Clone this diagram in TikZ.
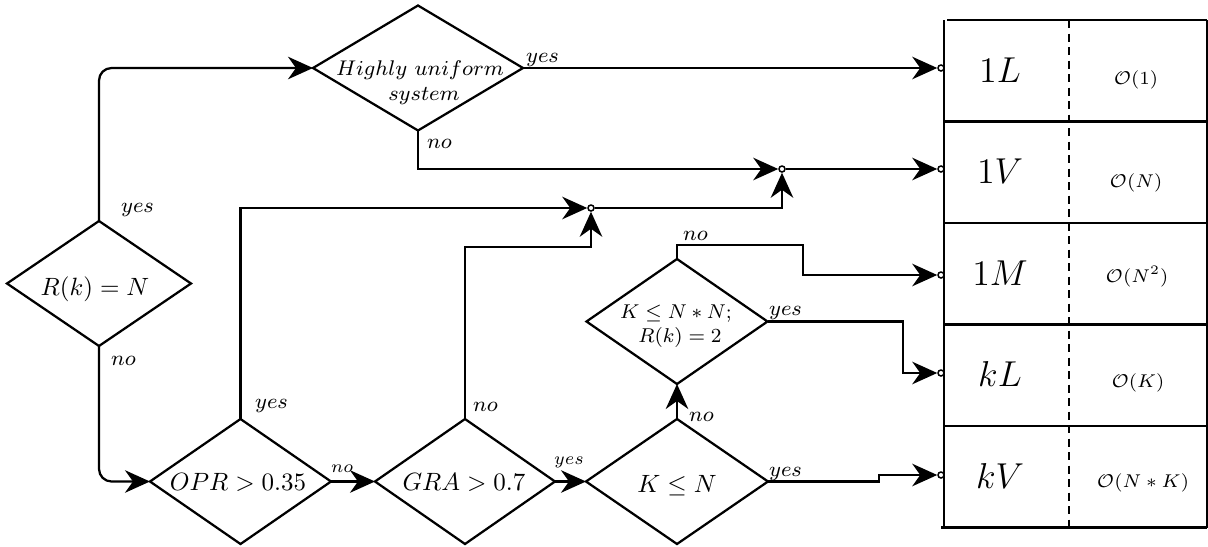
\IfFileExists{fix-cm.sty}{\RequirePackage{fix-cm}}{}
\documentclass[tikz,border=0pt]{standalone}
\usetikzlibrary{shapes.geometric,arrows.meta}
\begin{document}
\begin{tikzpicture}[x=0.4pt,y=-0.4pt,
  line width=0.9pt,
  dec/.style={shape=diamond, draw, inner sep=0pt, outer sep=0pt, minimum height=50pt},
  tip/.style={-{Stealth[length=10pt,width=9pt,inset=3.2pt]}},
  jct/.style={circle, draw, fill=white, inner sep=0pt, minimum size=2.4pt, line width=0.6pt},
  mtext/.style={anchor=base, inner sep=0pt, font={\fontsize{10}{12}\selectfont}},
  stext/.style={anchor=base, inner sep=0pt, font={\fontsize{8}{9.5}\selectfont}},
  htext/.style={anchor=base, inner sep=0pt, font={\fontsize{8.5}{10}\selectfont}},
  lbl/.style={anchor=base west, inner sep=0pt, font={\fontsize{8.5}{10}\selectfont}},
  slbl/.style={anchor=base west, inner sep=0pt, font={\fontsize{7}{8}\selectfont}},
  rowtxt/.style={anchor=base, inner sep=0pt, font=\Large},
  cost/.style={anchor=base, inner sep=0pt, font={\fontsize{7.4}{9}\selectfont}},
]
\useasboundingbox (0,0) rectangle (1208,547);

% result table
\draw (947,20) -- (1207,20);
\draw (944,121.5) -- (1207,121.5);
\draw (944,223) -- (1207,223);
\draw (944,324.5) -- (1207,324.5);
\draw (944,426) -- (1207,426);
\draw (941,527.5) -- (1207,527.5);
\draw (944,20) -- (944,527.5);
\draw (1207,20) -- (1207,527.5);
\draw[dash pattern=on 3.2pt off 2.2pt] (1069,20) -- (1069,527.5);

\node[rowtxt] (r1) at (1000,82) {$1L$};
\node[rowtxt] (r2) at (1000,183) {$1V$};
\node[rowtxt] (r3) at (1000,285) {$1M$};
\node[rowtxt] (r4) at (1000,386) {$kL$};
\node[rowtxt] (r5) at (1000,488) {$kV$};
\node[cost] (o1) at (1136,84) {$\mathcal{O}(1)$};
\node[cost] (o2) at (1136,187) {$\mathcal{O}(N)$};
\node[cost] (o3) at (1137,282) {$\mathcal{O}(N^2)$};
\node[cost] (o4) at (1138,387) {$\mathcal{O}(K)$};
\node[cost] (o5) at (1143,487) {$\mathcal{O}(N*K)$};

% decisions
\node[dec, minimum width=73.6pt] (rk) at (99,283.5) {};
\node[mtext] (rkt) at (95,295) {$R(k) = N$};
\node[dec, minimum width=84pt] (hu) at (418,68) {};
\node[htext] (hut1) at (420,75) {$Highly\ uniform$};
\node[htext] (hut2) at (424,100) {$system$};
\node[dec, minimum width=72.4pt] (opr) at (240.5,481.5) {};
\node[mtext] (oprt) at (238,490) {$OPR > 0.35$};
\node[dec, minimum width=72pt] (gra) at (465,481.5) {};
\node[mtext] (grat) at (464,490) {$GRA > 0.7$};
\node[dec, minimum width=72.8pt] (kn) at (677,481.5) {};
\node[mtext] (knt) at (677,492) {$K \leq N$};
\node[dec, minimum width=72.4pt] (kk) at (677,321.5) {};
\node[stext] (kkt1) at (676,318) {$K \leq N*N;$};
\node[stext] (kkt2) at (680,342) {$R(k) = 2$};

% junction points
\node[jct] (j1) at (591,208) {};
\node[jct] (j2) at (782,169) {};
\node[jct] (c1) at (941,68) {};
\node[jct] (c2) at (941,169) {};
\node[jct] (c3) at (941,275) {};
\node[jct] (c4) at (941,373) {};
\node[jct] (c5) at (941,475) {};

\coordinate (gturn) at (465,247);
\coordinate (kkup) at (803,245);
\coordinate (kkyes) at (903,373);
\coordinate (kna) at (879,481.5);
\coordinate (knb) at (879,475);

% connectors
\draw[tip, rounded corners=5pt] (rk.north) |- (hu.west);
\draw[tip, rounded corners=5pt] (rk.south) |- (opr.west);
\draw[tip] (hu.east) -- (c1);
\draw[tip] (hu.south) |- (j2);
\draw[tip] (opr.north) |- (j1);
\draw[tip] (gra.north) -- (gturn) -| (j1);
\draw[tip] (j1) -| (j2);
\draw[tip] (j2) -- (c2);
\draw[tip] (opr.east) -- (gra.west);
\draw[tip] (gra.east) -- (kn.west);
\draw[tip] (kn.north) -- (kk.south);
\draw[tip] (kk.north) |- (kkup) |- (c3);
\draw[tip] (kk.east) -| (kkyes) -- (c4);
\draw[tip] (kn.east) -- (kna) -- (knb) -- (c5);

% branch labels
\node[lbl] (l1) at (120,212) {$yes$};
\node[lbl] (l2) at (110,365) {$no$};
\node[lbl] (l3) at (525,62) {$yes$};
\node[lbl] (l4) at (426,148) {$no$};
\node[lbl] (l5) at (254,408) {$yes$};
\node[slbl] (l6) at (330,472) {$no$};
\node[lbl] (l7) at (472,411) {$no$};
\node[slbl] (l8) at (553,464) {$yes$};
\node[lbl] (l9) at (688,421) {$no$};
\node[lbl] (l10) at (768,476) {$yes$};
\node[lbl] (l11) at (682,240) {$no$};
\node[lbl] (l12) at (768,315) {$yes$};
\end{tikzpicture}
\end{document}
